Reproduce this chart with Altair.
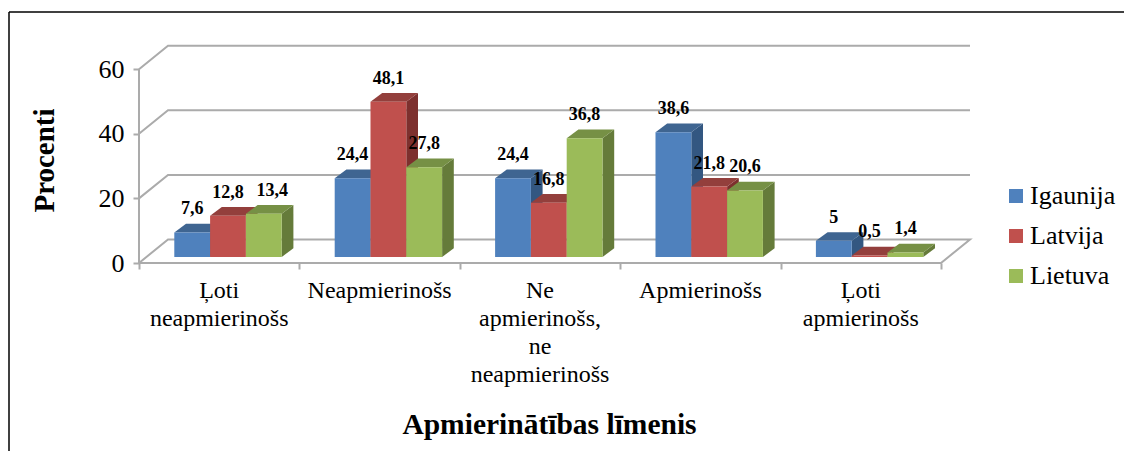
import altair as alt
import pandas as pd

categories = ["Ļoti\nneapmierinošs", "Neapmierinošs", "Ne\napmierinošs,\nne\nneapmierinošs", "Apmierinošs", "Ļoti\napmierinošs"]
series = ["Igaunija", "Latvija", "Lietuva"]
igaunija = [7.6, 24.4, 24.4, 38.6, 5]
latvija = [12.8, 48.1, 16.8, 21.8, 0.5]
lietuva = [13.4, 27.8, 36.8, 20.6, 1.4]
values = [igaunija, latvija, lietuva]
y_ticks = [0, 20, 40, 60]

front_colors = ["#4F81BD", "#C0504D", "#9BBB59"]
top_colors = ["#3F6591", "#933F3C", "#769045"]
side_colors = ["#335781", "#7D302E", "#657B3A"]
GRID = "#ABABAB"
SERIF = "Liberation Serif"

# page geometry expressed through the scales
W, H = 1116, 443
PX_X, PX_Y = 160.4, 3.23          # pixels per category, pixels per percent
X0, Y0 = 219.2, 263.0             # page position of category 0 / value 0
x_scale = alt.Scale(domain=[(8 - X0) / PX_X, (8 + W - X0) / PX_X], range=[0, W], nice=False, zero=False)
y_scale = alt.Scale(domain=[(Y0 - 8 - H) / PX_Y, (Y0 - 8) / PX_Y], range=[H, 0], nice=False, zero=False)

WALL_DX, WALL_DY = 29 / PX_X, 23.5 / PX_Y
BAR_DX, BAR_DY = 11.7 / PX_X, 8.7 / PX_Y
BAR_W = 35.8 / PX_X
BAR_SHIFT = 8.8 / PX_X
BASE = 6 / PX_Y
LABEL_UP = 23 / PX_Y
LABEL_NUDGE = {(0, 2): 8.5 / PX_X}   # the one data label that sits off its bar's centre
LEFT, RIGHT = -0.5, 4.5

# walls and floor
lines = []
for v in y_ticks:
    pts = [(LEFT, v), (LEFT + WALL_DX, v + WALL_DY), (RIGHT + WALL_DX, v + WALL_DY)]
    if v == 0:
        pts += [(RIGHT, v), (LEFT, v)]
    for k, (a, b) in enumerate(pts):
        lines.append({"seg": f"g{v}", "ord": k, "x": a, "y": b})
lines.append({"seg": "axis", "ord": 0, "x": LEFT, "y": 0})
lines.append({"seg": "axis", "ord": 1, "x": LEFT, "y": 60})
lines_df = pd.DataFrame(lines)

fronts, sides, tops, labels = [], [], [], []
for c in range(len(categories)):
    for s, name in enumerate(series):
        v = values[s][c]
        x0 = c + BAR_SHIFT + (s - 1.5) * BAR_W
        x1 = x0 + BAR_W
        top = BASE + v
        bar = f"{c}-{s}"
        fronts.append({"x": x0, "x2": x1, "y": BASE, "y2": top, "series": name})
        sides.append({"id": bar, "x": x1, "y": top, "y2": BASE, "c": side_colors[s]})
        sides.append({"id": bar, "x": x1 + BAR_DX, "y": top + BAR_DY, "y2": BASE + BAR_DY, "c": side_colors[s]})
        for a, b, b2 in [(x0, top, top), (x0 + BAR_DX, top + BAR_DY, top), (x1, top + BAR_DY, top), (x1 + BAR_DX, top + BAR_DY, top + BAR_DY)]:
            tops.append({"id": bar, "x": a, "y": b, "y2": b2, "c": top_colors[s]})
        labels.append({"x": (x0 + x1) / 2 + LABEL_NUDGE.get((c, s), 0), "y": top + LABEL_UP, "t": str(v).replace(".", ",")})
cat_df = pd.DataFrame({"x": list(range(len(categories))), "y": [(Y0 - 279) / PX_Y] * len(categories), "t": categories})

x_axis = alt.Axis(
    values=[-0.5, 0.5, 1.5, 2.5, 3.5, 4.5], labels=False, domain=False, grid=False,
    tickColor=GRID, tickWidth=2, tickSize=6, offset=-(8 + H - Y0),
    title="Apmierinātības līmenis", titleFont=SERIF, titleFontSize=29.5, titleFontWeight="bold",
    titleColor="black", titleX=541, titleY=161, titleBaseline="middle", titleAlign="center")
y_axis = alt.Axis(
    values=y_ticks, domain=False, grid=False, tickColor=GRID, tickWidth=2, tickSize=6,
    offset=-(X0 - PX_X * 0.5 - 8), labelFont=SERIF, labelFontSize=26, labelColor="black", labelPadding=9,
    title="Procenti", titleFont=SERIF, titleFontSize=29, titleFontWeight="bold", titleColor="black",
    titleAngle=270, titleX=-95, titleY=152, titleBaseline="middle", titleAlign="center")

X = alt.X("x:Q", scale=x_scale, axis=x_axis)
Y = alt.Y("y:Q", scale=y_scale, axis=y_axis, stack=None)

grid = alt.Chart(lines_df).mark_line(color=GRID, strokeWidth=2).encode(
    x=X, y=Y, detail="seg:N", order="ord:Q")
side = alt.Chart(pd.DataFrame(sides)).mark_area(orient="vertical").encode(
    x=X, y=Y, y2="y2:Q", fill=alt.Fill("c:N", scale=None), detail="id:N")
topf = alt.Chart(pd.DataFrame(tops)).mark_area(orient="vertical").encode(
    x=X, y=Y, y2="y2:Q", fill=alt.Fill("c:N", scale=None), detail="id:N")
front = alt.Chart(pd.DataFrame(fronts)).mark_bar().encode(
    x=X, x2="x2:Q", y=Y, y2="y2:Q",
    color=alt.Color("series:N", scale=alt.Scale(domain=series, range=front_colors), legend=alt.Legend(
        orient="none", legendX=995, legendY=175, title=None, symbolType="square", symbolSize=196,
        symbolStrokeWidth=0, labelFont=SERIF, labelFontSize=26, labelColor="black", rowPadding=14, labelOffset=1)))
val_text = alt.Chart(pd.DataFrame(labels)).mark_text(
    font=SERIF, fontSize=18, fontWeight="bold", color="black", baseline="middle", align="center").encode(
    x=X, y=Y, text="t:N")
cat_text = alt.Chart(cat_df).mark_text(
    font=SERIF, fontSize=24, color="black", baseline="top", align="center", lineBreak="\n", lineHeight=28).encode(
    x=X, y=Y, text="t:N")

frame = [
    alt.Chart(pd.DataFrame({"a": [0]})).mark_rule(color="black", strokeWidth=1.5).encode(
        x=alt.value(1), x2=alt.value(1), y=alt.value(4), y2=alt.value(H)),
    alt.Chart(pd.DataFrame({"a": [0]})).mark_rule(color="black", strokeWidth=1.5).encode(
        x=alt.value(1), x2=alt.value(W), y=alt.value(4), y2=alt.value(4)),
]

chart = alt.layer(*frame, grid, side, topf, front, val_text, cat_text).properties(
    width=W, height=H, padding=0, autosize=alt.AutoSizeParams(type="none")
).configure_view(stroke=None)

chart.save("out.html", embed_options={"renderer": "svg", "actions": False})
